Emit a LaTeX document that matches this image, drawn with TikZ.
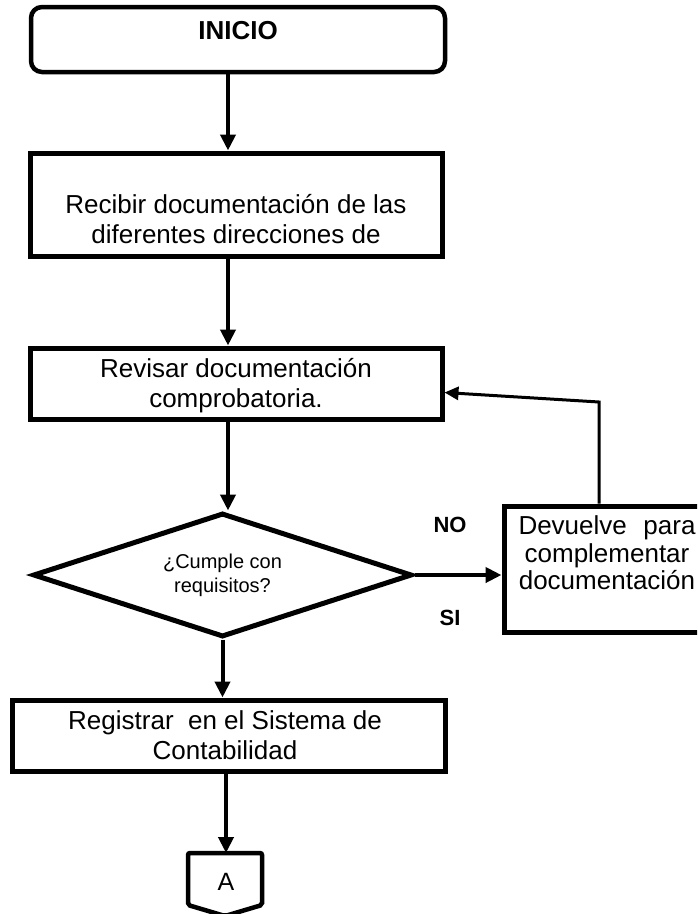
\documentclass[tikz,border=0pt]{standalone}
\usepackage{fontspec}
\setmainfont{Liberation Sans}
\usetikzlibrary{arrows.meta,shapes.geometric}
\begin{document}
\begin{tikzpicture}[x=1pt,y=-1pt,
  box/.style={draw, line width=5pt, inner sep=0pt},
  flow/.style={line width=4pt, -{Triangle[width=15pt,length=16pt]}},
  back/.style={line width=3pt, -{Triangle[width=13pt,length=14pt]}},
  big/.style={font=\fontsize{26}{30}\selectfont, align=center},
  tag/.style={font=\fontsize{22}{24}\selectfont\bfseries}]
\clip (0,0) rectangle (697,914);
\fill[white] (0,0) rectangle (697,914);

% guide columns for the vertical connectors
\coordinate (spine) at (228,0);
\coordinate (bend) at (599,402);
\coordinate (conA) at (226,853);

% start terminal
\node[box, rounded corners=11pt, line width=4.5pt, minimum width=414pt, minimum height=65pt,
  label={[font=\fontsize{26}{30}\selectfont\bfseries, yshift=8.5pt]center:INICIO}]
  (inicio) at (238,39.5) {};

% process boxes
\node[box, minimum width=412pt, minimum height=103pt,
  label={[big, yshift=-14.5pt]center:{Recibir documentación de las\\diferentes direcciones de}}]
  (recibir) at (236,204.5) {};

\node[box, minimum width=412pt, minimum height=71pt,
  label={[big, yshift=-2.5pt]center:{Revisar documentación\\comprobatoria.}}]
  (revisar) at (236,383.5) {};

% decision
\node[box, shape=diamond, aspect=3, minimum width=379pt, minimum height=124pt,
  font=\fontsize{20}{24}\selectfont, align=center]
  (dec) at (222.5,575) {¿Cumple con\\requisitos?};

\node[box, minimum width=206pt, minimum height=126pt,
  label={[font=\fontsize{26}{27.5}\selectfont, align=center, yshift=16pt]center:{\makebox[177pt][s]{Devuelve para}\\complementar\\documentación}}]
  (devuelve) at (607,569) {};

\node[box, minimum width=433pt, minimum height=71pt,
  label={[big, xshift=-3.5pt]center:{Registrar\ \ en el Sistema de\\Contabilidad}}]
  (registrar) at (228.5,735.5) {};

% off-page connector
\draw[line width=4.5pt, rounded corners=2pt] (188,853) -- (262,853) -- (262,905) -- (225,916) -- (188,905) -- cycle;
\node[font=\fontsize{25}{28}\selectfont] (letraA) at (226,882) {A};

% branch labels
\node[tag] (no) at (450,525) {NO};
\node[tag] (si) at (450,618) {SI};

% connectors
\draw[flow] (inicio.south -| spine) -- (recibir.north -| spine);
\draw[flow] (recibir.south -| spine) -- (revisar.north -| spine);
\draw[flow] (revisar.south -| spine) -- (dec.north -| spine);
\draw[flow] (dec.east) -- (devuelve.west |- dec.east);
\draw[flow] (dec.south) -- (registrar.north -| dec.south);
\draw[flow] (registrar.south -| conA) -- (conA);
\coordinate (fbIn) at ([yshift=-9pt]revisar.east);
\draw[back] (devuelve.north -| bend) -- (bend) -- (fbIn);
\end{tikzpicture}
\end{document}
